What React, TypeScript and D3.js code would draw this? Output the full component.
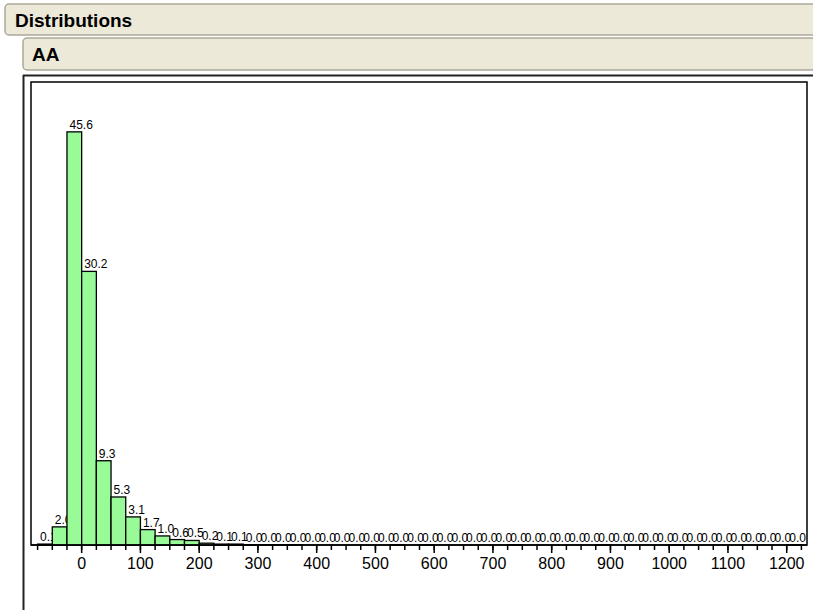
import React from 'react';
import * as d3 from 'd3';

const width = 813;
const height = 610;

// histogram bins (start of each 25-wide bin) and the percentage in each
const binWidth = 25;
const binStarts = d3.range(-75, 1225, binWidth);
const percents = [
  0.1, 2.0, 45.6, 30.2, 9.3, 5.3, 3.1, 1.7, 1.0, 0.6, 0.5, 0.2, 0.1, 0.1,
  0.03, 0.03, 0.03, 0.03, 0, 0, 0, 0, 0, 0, 0.03, 0,
  0.03, 0, 0, 0, 0, 0, 0.03, 0, 0, 0,
  0, 0, 0.03, 0, 0, 0, 0, 0.03, 0, 0, 0, 0, 0, 0, 0, 0.03,
];
const majorTicks = [0, 100, 200, 300, 400, 500, 600, 700, 800, 900, 1000, 1100, 1200];
const minorTicks = d3.range(-75, 1250, 25);

const title = 'Distributions';
const subTitle = 'AA';

const frame = { left: 31, top: 82, right: 807, bottom: 545 };

export default function App() {
  const x = d3.scaleLinear().domain([-75, 1225]).range([37.6, 801.4]);
  const y = d3.scaleLinear().domain([0, 50]).range([frame.bottom, frame.bottom - 453]);
  const font = '"Liberation Sans", Arial, sans-serif';

  return (
    <svg width={width} height={height} style={{ position: 'absolute', left: 0, top: 0, background: '#fff' }}>
      {/* header panels */}
      <rect x={5} y={4} width={830} height={31} rx={4} fill="#ECE9D8" stroke="#ACA899" strokeWidth={1.5} />
      <text x={15} y={27} fontFamily={font} fontWeight="bold" fontSize={19} fill="#000">{title}</text>
      <rect x={23} y={38} width={810} height={32} rx={4} fill="#ECE9D8" stroke="#ACA899" strokeWidth={1.5} />
      <text x={32} y={61} fontFamily={font} fontWeight="bold" fontSize={19} fill="#000">{subTitle}</text>

      {/* outer frame */}
      <line x1={23.5} y1={75} x2={23.5} y2={height} stroke="#222" strokeWidth={2} />
      <line x1={23} y1={75.5} x2={width} y2={75.5} stroke="#222" strokeWidth={2} />

      {/* plot frame */}
      <rect x={frame.left} y={frame.top} width={frame.right - frame.left} height={frame.bottom - frame.top}
        fill="#fff" stroke="#000" strokeWidth={1.5} />

      {/* bars + labels, drawn in order so later bars cover earlier labels */}
      {binStarts.map((b, i) => {
        const v = percents[i];
        const x0 = x(b);
        const x1 = x(b + binWidth);
        const top = y(v);
        return (
          <g key={b}>
            <rect x={x0} y={top} width={x1 - x0} height={frame.bottom - top}
              fill="#98FB98" stroke="#000" strokeWidth={1.3} />
            <text x={x0 + 2.5} y={top - 3} fontFamily={font} fontSize={12} fill="#000">{v.toFixed(1)}</text>
          </g>
        );
      })}

      {/* axis */}
      <line x1={frame.left} y1={frame.bottom} x2={frame.right} y2={frame.bottom} stroke="#000" strokeWidth={1.5} />
      {minorTicks.map((t) => (
        <line key={'m' + t} x1={x(t)} x2={x(t)} y1={frame.bottom} y2={frame.bottom + 5} stroke="#000" strokeWidth={1.5} />
      ))}
      {majorTicks.map((t) => (
        <g key={t} transform={`translate(${x(t)},${frame.bottom})`}>
          <line y1={0} y2={8} stroke="#000" strokeWidth={1.5} />
          <text y={24} textAnchor="middle" fontFamily={font} fontSize={16} fill="#000">{t}</text>
        </g>
      ))}
    </svg>
  );
}
